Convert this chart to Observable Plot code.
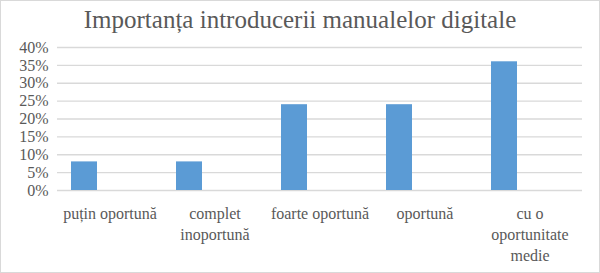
<!DOCTYPE html>
<html>
<head>
<meta charset="utf-8">
<script src="https://cdn.jsdelivr.net/npm/d3@7"></script>
<script src="https://cdn.jsdelivr.net/npm/@observablehq/plot@0.6"></script>
<style>
  body { margin: 0; background: #fff; }
  #chart { position: relative; width: 600px; height: 273px; outline: 1px solid #d9d9d9; outline-offset: -1px; background: #fff; }
  #title { height: 36px; line-height: 36px; text-align: center; font-family: "Liberation Serif", "Times New Roman", serif; font-size: 25px; color: #595959; padding-top: 2px; box-sizing: border-box; }
  #chart svg, #chart svg text { font-family: "Liberation Serif", "Times New Roman", serif !important; }
</style>
</head>
<body>
<div id="chart">
  <div id="title">Importanța introducerii manualelor digitale</div>
</div>
<script>
const categories = ["puțin oportună", "complet inoportună", "foarte oportună", "oportună", "cu o oportunitate medie"];
const tickLabels = ["puțin oportună", "complet\ninoportună", "foarte oportună", "oportună", "cu o\noportunitate\nmedie"];
const values = [0.08, 0.08, 0.24, 0.24, 0.36];
const series = ["Seria 1", "Seria 2", "Seria 3"];
const yTicks = [0, 0.05, 0.10, 0.15, 0.20, 0.25, 0.30, 0.35, 0.40];

const data = categories.map((c, i) => ({cat: c, series: series[0], value: values[i]}));
const serif = "'Liberation Serif', 'Times New Roman', serif";

const chart = Plot.plot({
  width: 600,
  height: 237,
  marginTop: 11,
  marginBottom: 83,
  marginLeft: 57,
  marginRight: 18,
  style: {fontFamily: serif, fontSize: "16px", color: "#595959", background: "transparent", overflow: "visible"},
  fx: {domain: categories, padding: 0, label: null},
  x: {domain: series, paddingInner: 0, paddingOuter: 0.5, axis: null},
  y: {domain: [0, 0.4], label: null},
  marks: [
    Plot.gridY(yTicks, {stroke: "#d9d9d9", strokeOpacity: 1, strokeWidth: 1.3}),
    Plot.barY(data, {fx: "cat", x: "series", y: "value", fill: "#5b9bd5"}),
    Plot.axisY(yTicks, {tickSize: 0, tickPadding: 9, fontSize: 16, fontFamily: serif, tickFormat: d => Math.round(d * 100) + "%", label: null}),
    Plot.axisFx({anchor: "bottom", tickSize: 0, tickPadding: 14, fontSize: 16, fontFamily: serif, lineHeight: 1.3, label: null,
      tickFormat: d => tickLabels[categories.indexOf(d)]})
  ]
});
document.getElementById("chart").appendChild(chart);
</script>
</body>
</html>
